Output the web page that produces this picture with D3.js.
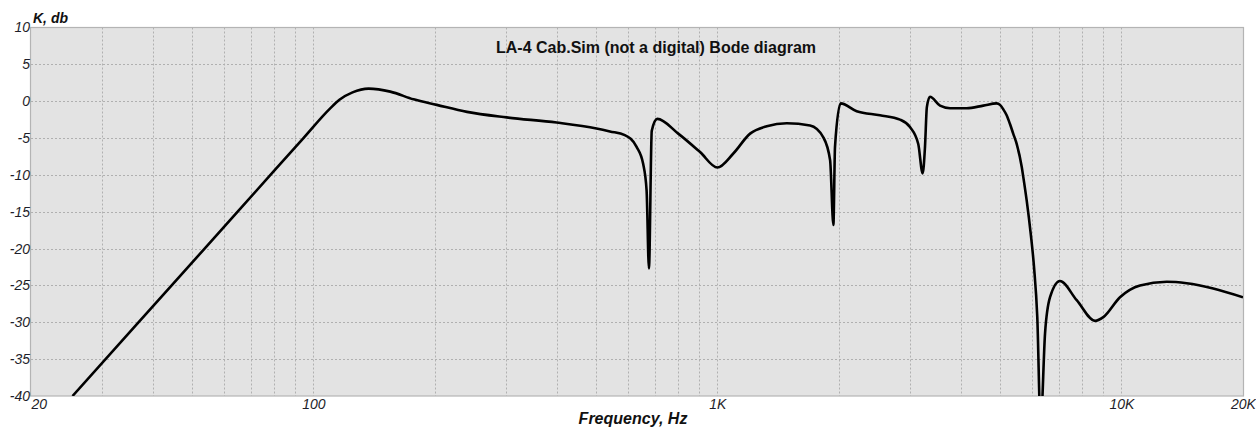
<!DOCTYPE html>
<html>
<head>
<meta charset="utf-8">
<script src="https://cdn.jsdelivr.net/npm/d3@7"></script>
<style>
  body { margin: 0; background: #fff; }
  svg { display: block; font-family: "Liberation Sans", Arial, sans-serif; }
</style>
</head>
<body>
<svg width="1256" height="427"></svg>
<script>
// frequency points (Hz) and gain (dB)
var freqs = [25.34, 36.9, 53.8, 78.3, 94.5, 109.9, 116, 125, 137, 155, 177, 202, 240, 301, 400, 502, 542, 590, 631, 655, 668, 677, 688, 710, 800, 906, 1000, 1095, 1205, 1325, 1485, 1696, 1829, 1901, 1937, 1955, 2019, 2212, 2526, 2832, 2997, 3142, 3222, 3265, 3300, 3358, 3557, 3766, 4141, 4552, 4911, 5006, 5101, 5200, 5300, 5398, 5506, 5666, 5718, 5830, 5965, 6078, 6192, 6310, 6472, 6659, 7046, 7752, 8606, 9022, 9920, 11120, 12946, 14510, 16880, 20000];
var gains = [-40, -30, -20, -10, -5, -1.0, 0.2, 1.2, 1.7, 1.3, 0.25, -0.5, -1.45, -2.2, -2.9, -3.7, -4.1, -4.6, -6.2, -8.5, -12.1, -22.7, -4.0, -2.4, -4.4, -6.9, -9.0, -7.1, -4.4, -3.4, -3.0, -3.3, -4.9, -8.0, -16.8, -6.2, -0.3, -1.35, -1.9, -2.5, -3.5, -5.8, -9.8, -6.2, -0.8, 0.6, -0.6, -0.95, -0.95, -0.6, -0.3, -0.5, -1.1, -1.9, -3.1, -4.4, -5.8, -8.9, -10.3, -13.5, -18.0, -22.5, -29.3, -44, -31.5, -26.6, -24.4, -27.0, -29.8, -29.3, -26.6, -25.0, -24.5, -24.7, -25.4, -26.6];

var yTicks = [-40, -35, -30, -25, -20, -15, -10, -5, 0, 5, 10];
var xTicks = [20, 100, 1000, 10000, 20000];
var xTickLabels = ["20", "100", "1K", "10K", "20K"];

var titleText = "LA-4 Cab.Sim (not a digital) Bode diagram";

;(function(){
    var svg = d3.select("svg");
    var pLeft = 31, pRight = 1243, pTop = 27.5, pBottom = 396;

    var x = d3.scaleLog().domain([20, 20000]).range([pLeft, pRight]);
    var y = d3.scaleLinear().domain([-40, 10]).range([pBottom, pTop]);

    svg.append("rect")
        .attr("x", pLeft).attr("y", pTop)
        .attr("width", pRight - pLeft).attr("height", pBottom - pTop)
        .attr("fill", "#e3e3e3");

    // grid
    var vGrid = x.ticks().filter(function(d){ return d > 20 && d < 20000; });
    svg.append("g").selectAll("line").data(vGrid).enter().append("line")
        .attr("x1", function(d){ return Math.round(x(d)) + 0.5; })
        .attr("x2", function(d){ return Math.round(x(d)) + 0.5; })
        .attr("y1", pTop).attr("y2", pBottom)
        .attr("stroke", "#b0b0b0").attr("stroke-dasharray", "2,2");

    var hGrid = yTicks.filter(function(d){ return d > -40 && d < 10; });
    svg.append("g").selectAll("line").data(hGrid).enter().append("line")
        .attr("x1", pLeft).attr("x2", pRight)
        .attr("y1", function(d){ return Math.round(y(d)) + 0.5; })
        .attr("y2", function(d){ return Math.round(y(d)) + 0.5; })
        .attr("stroke", "#b0b0b0").attr("stroke-dasharray", "2,2");

    svg.append("rect")
        .attr("x", pLeft - 0.5).attr("y", pTop)
        .attr("width", pRight - pLeft + 1).attr("height", pBottom - pTop)
        .attr("fill", "none").attr("stroke", "#b4b4b4").attr("stroke-width", 1.2);

    // curve
    svg.append("clipPath").attr("id", "plotclip")
        .append("rect").attr("x", pLeft).attr("y", pTop)
        .attr("width", pRight - pLeft).attr("height", pBottom - pTop);

    var pts = freqs.map(function(f, i){ return [f, gains[i]]; });
    var line = d3.line()
        .x(function(d){ return x(d[0]); })
        .y(function(d){ return y(d[1]); })
        .curve(d3.curveMonotoneX);

    svg.append("path")
        .datum(pts)
        .attr("clip-path", "url(#plotclip)")
        .attr("fill", "none")
        .attr("stroke", "#000")
        .attr("stroke-width", 2.6)
        .attr("stroke-linejoin", "round")
        .attr("d", line);

    // axes labels
    var yAxis = d3.axisLeft(y).tickValues(yTicks).tickSize(0).tickPadding(0)
        .tickFormat(function(d){ return String(d); });
    var gy = svg.append("g").attr("transform", "translate(30,0)").call(yAxis);
    gy.select(".domain").remove();
    gy.selectAll("text")
        .attr("font-size", 14).attr("font-style", "italic")
        .attr("font-family", "Liberation Sans, Arial, sans-serif")
        .attr("fill", "#1e1e2a");

    var xAxis = d3.axisBottom(x).tickValues(xTicks).tickSize(0).tickPadding(0)
        .tickFormat(function(d, i){ return xTickLabels[i]; });
    var gx = svg.append("g").attr("transform", "translate(0," + pBottom + ")").call(xAxis);
    gx.select(".domain").remove();
    gx.selectAll("text")
        .attr("y", 13).attr("dy", 0)
        .attr("font-size", 14).attr("font-style", "italic")
        .attr("font-family", "Liberation Sans, Arial, sans-serif")
        .attr("fill", "#1e1e2a")
        .attr("text-anchor", function(d, i){ return i === 0 ? "start" : "middle"; });

    svg.append("text")
        .attr("x", 33).attr("y", 23)
        .attr("font-size", 14).attr("font-weight", "bold").attr("font-style", "italic")
        .attr("fill", "#111")
        .text("K, db");

    svg.append("text")
        .attr("x", 633).attr("y", 424)
        .attr("text-anchor", "middle")
        .attr("font-size", 16).attr("font-weight", "bold").attr("font-style", "italic")
        .attr("fill", "#111")
        .text("Frequency, Hz");

    svg.append("text")
        .attr("x", 656).attr("y", 53)
        .attr("text-anchor", "middle")
        .attr("font-size", 16).attr("font-weight", "bold")
        .attr("fill", "#111")
        .text(titleText);
}());
</script>
</body>
</html>
